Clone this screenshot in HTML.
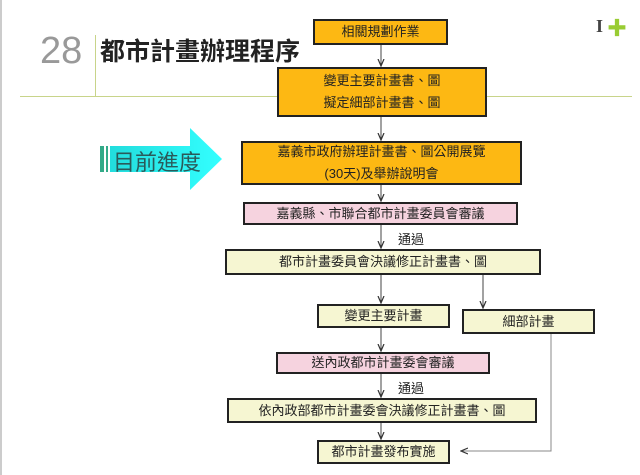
<!DOCTYPE html>
<html><head><meta charset="utf-8"><style>
body{margin:0;width:640px;height:475px;background:#fff;position:relative;overflow:hidden;font-family:"Liberation Sans","Noto Sans CJK TC",sans-serif}
.b{position:absolute;box-sizing:border-box;border:2px solid #222;display:flex;align-items:center;justify-content:center;text-align:center;font-size:13px;color:#222;line-height:22px}
.o{background:#fdb813}.p{background:#f6d3df}.y{background:#f6f6d2}
.t{position:absolute;font-size:13px;color:#222}
</style></head><body>
<div style="position:absolute;left:0;top:0;width:2px;height:475px;background:#ccc"></div>
<div style="position:absolute;left:20px;top:96px;width:612px;height:1px;background:#c8d48a"></div>
<div style="position:absolute;left:95px;top:35px;width:1px;height:62px;background:#c8d48a"></div>
<div style="position:absolute;left:40px;top:30px;font-size:38px;color:#999">28</div>
<div style="position:absolute;left:100px;top:32px;font-size:25px;font-weight:bold;color:#222">都市計畫辦理程序</div>
<div style="position:absolute;left:596px;top:16px;font-size:18px;font-weight:bold;color:#444;font-family:'Liberation Serif',serif">I</div>
<div style="position:absolute;left:607px;top:12px;font-size:20px;color:#9c3;font-weight:bold">✚</div>
<svg style="position:absolute;left:0;top:0" width="640" height="475">
<defs><linearGradient id="g" x1="0" x2="1"><stop offset="0" stop-color="#2dd"/><stop offset="1" stop-color="#3ff"/></linearGradient>
<marker id="a" markerWidth="8" markerHeight="8" refX="7" refY="4" orient="auto"><path d="M0,1 L7,4 L0,7" fill="none" stroke="#333" stroke-width="1.2"/></marker></defs>
<rect x="100" y="146" width="4" height="26" fill="#3a8"/><rect x="106" y="146" width="2" height="26" fill="#3a8"/>
<path d="M110,146 H190 V128 L222,159 L190,190 V172 H110 Z" fill="url(#g)"/>
<g stroke="#444" stroke-width="1" marker-end="url(#a)">
<line x1="381" y1="45" x2="381" y2="66"/><line x1="381" y1="117" x2="381" y2="140"/>
<line x1="381" y1="185" x2="381" y2="201"/><line x1="381" y1="224" x2="381" y2="248"/>
<line x1="381" y1="275" x2="381" y2="303"/><line x1="483" y1="275" x2="483" y2="308"/>
<line x1="381" y1="328" x2="381" y2="351"/><line x1="381" y1="374" x2="381" y2="397"/>
<line x1="381" y1="423" x2="381" y2="439"/>
</g>
<path d="M551,334 V451 H461" fill="none" stroke="#888" stroke-width="1" marker-end="url(#a)"/>
</svg>
<div style="position:absolute;left:113px;top:145px;font-size:22px;color:#2a5a5a">目前進度</div>
<div class="b o" style="left:313px;top:19px;width:135px;height:26px">相關規劃作業</div>
<div class="b o" style="left:277px;top:67px;width:210px;height:50px">變更主要計畫書、圖<br>擬定細部計畫書、圖</div>
<div class="b o" style="left:241px;top:141px;width:281px;height:44px">嘉義市政府辦理計畫書、圖公開展覽<br>(30天)及舉辦說明會</div>
<div class="b p" style="left:243px;top:202px;width:275px;height:23px">嘉義縣、市聯合都市計畫委員會審議</div>
<div class="t" style="left:398px;top:229px">通過</div>
<div class="b y" style="left:225px;top:249px;width:316px;height:26px">都市計畫委員會決議修正計畫書、圖</div>
<div class="b y" style="left:317px;top:304px;width:133px;height:24px">變更主要計畫</div>
<div class="b y" style="left:462px;top:309px;width:133px;height:25px">細部計畫</div>
<div class="b p" style="left:276px;top:352px;width:214px;height:22px">送內政都市計畫委會審議</div>
<div class="t" style="left:398px;top:378px">通過</div>
<div class="b y" style="left:227px;top:398px;width:310px;height:25px">依內政部都市計畫委會決議修正計畫書、圖</div>
<div class="b y" style="left:317px;top:440px;width:133px;height:24px">都市計畫發布實施</div>
</body></html>
